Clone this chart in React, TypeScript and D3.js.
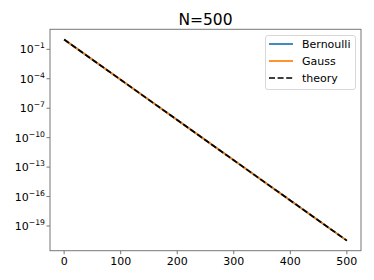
import React from "react";
import * as d3 from "d3";

const steps = [0, 100, 200, 300, 400, 500];
const bernoulli = [1.0, 7.9e-5, 6.3e-9, 5.0e-13, 4.0e-17, 3.2e-21];
const gauss = [1.0, 7.9e-5, 6.3e-9, 5.0e-13, 4.0e-17, 3.2e-21];
const theory = [1.0, 7.9e-5, 6.3e-9, 5.0e-13, 4.0e-17, 3.2e-21];
const xTicks = [0, 100, 200, 300, 400, 500];
const yTickExps = [-1, -4, -7, -10, -13, -16, -19];
const title = "N=500";

const W = 374;
const H = 280;
const box = { left: 50, top: 29.3, right: 361, bottom: 250.7 };

const App = () => {
  const svgRef = React.useRef<SVGSVGElement>(null);

  React.useEffect(() => {
    const xScale = d3.scaleLinear().domain([-25, 525]).range([box.left, box.right]);
    const yScale = d3
      .scaleLog()
      .domain([Math.pow(10, -21.52), Math.pow(10, 1.04)])
      .range([box.bottom, box.top]);

    const svg = d3.select(svgRef.current);
    svg.selectAll("*").remove();
    const font = "'DejaVu Sans', sans-serif";

    svg.append("rect").attr("width", W).attr("height", H).attr("fill", "white");

    // lines
    const series = [
      { name: "Bernoulli", values: bernoulli, color: "#1f77b4", dash: null },
      { name: "Gauss", values: gauss, color: "#ff7f0e", dash: null },
      { name: "theory", values: theory, color: "black", dash: "6,2.6" },
    ];
    const line = d3
      .line<number>()
      .x((d, i) => xScale(steps[i]))
      .y((d) => yScale(d));

    series.forEach((s) => {
      svg
        .append("path")
        .attr("d", line(s.values))
        .attr("fill", "none")
        .attr("stroke", s.color)
        .attr("stroke-width", 1.7)
        .attr("stroke-dasharray", s.dash);
    });

    // spines
    const spine = "#777";
    svg
      .append("rect")
      .attr("x", box.left)
      .attr("y", box.top)
      .attr("width", box.right - box.left)
      .attr("height", box.bottom - box.top)
      .attr("fill", "none")
      .attr("stroke", spine)
      .attr("stroke-width", 1);

    // x ticks
    const xg = svg.append("g");
    xTicks.forEach((t) => {
      const x = xScale(t);
      xg.append("line")
        .attr("x1", x).attr("x2", x)
        .attr("y1", box.bottom).attr("y2", box.bottom + 3.5)
        .attr("stroke", spine);
      xg.append("text")
        .attr("x", x)
        .attr("y", 265)
        .attr("text-anchor", "middle")
        .attr("font-family", font)
        .attr("font-size", 11)
        .text(t);
    });

    // y ticks
    const yg = svg.append("g");
    yTickExps.forEach((e) => {
      const y = yScale(Math.pow(10, e));
      yg.append("line")
        .attr("x1", box.left - 3.5).attr("x2", box.left)
        .attr("y1", y).attr("y2", y)
        .attr("stroke", spine);
      const txt = yg
        .append("text")
        .attr("x", 45)
        .attr("y", y + 4)
        .attr("text-anchor", "end")
        .attr("font-family", font)
        .attr("font-size", 11);
      txt.append("tspan").text("10");
      txt
        .append("tspan")
        .attr("dy", -5)
        .attr("font-size", 7.7)
        .text("\u2212" + Math.abs(e));
    });

    // title
    svg
      .append("text")
      .attr("x", (box.left + box.right) / 2)
      .attr("y", 24.5)
      .attr("text-anchor", "middle")
      .attr("font-family", font)
      .attr("font-size", 15.5)
      .text(title);

    // legend
    const lg = svg.append("g");
    lg.append("rect")
      .attr("x", 265.5).attr("y", 35.5)
      .attr("width", 90).attr("height", 54)
      .attr("rx", 2.5)
      .attr("fill", "white")
      .attr("fill-opacity", 0.8)
      .attr("stroke", "#d8d8d8");
    series.forEach((s, i) => {
      const y = 44 + i * 17;
      lg.append("line")
        .attr("x1", 269).attr("x2", 293)
        .attr("y1", y).attr("y2", y)
        .attr("stroke", s.color)
        .attr("stroke-width", 1.7)
        .attr("stroke-dasharray", s.dash);
      lg.append("text")
        .attr("x", 302)
        .attr("y", y + 4)
        .attr("font-family", font)
        .attr("font-size", 11)
        .text(s.name);
    });
  }, []);

  return (
    <svg
      ref={svgRef}
      width={W}
      height={H}
      style={{ position: "absolute", left: 0, top: 0 }}
    />
  );
};

export default App;
